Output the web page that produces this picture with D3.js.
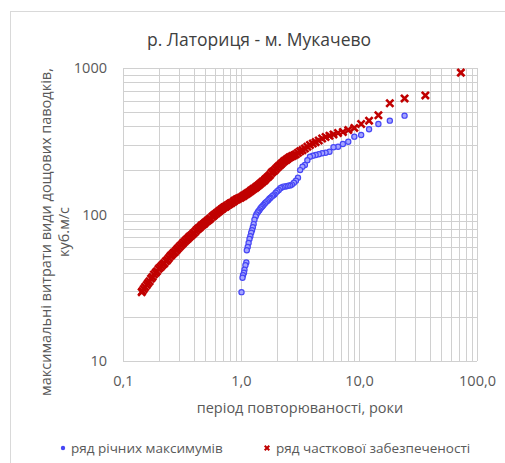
<!DOCTYPE html>
<html>
<head>
<meta charset="utf-8">
<script src="https://cdn.jsdelivr.net/npm/d3@7"></script>
<style>
  body { margin: 0; background: #fff; }
  text { font-family: "Open Sans", sans-serif; }
</style>
</head>
<body>
<div id="chart"></div>
<script>
const chartTitle = "р. Латориця - м. Мукачево";
const xTitle = "період повторюваності, роки";
const yTitle = ["максимальні витрати види дощових паводків,", "куб.м/с"];
const seriesNames = ["ряд річних максимумів", "ряд часткової забезпеченості"];

const xTicks = [0.1, 1, 10, 100];
const xTickLabels = ["0,1", "1,0", "10,0", "100,0"];
const yTicks = [10, 100, 1000];
const yTickLabels = ["10", "100", "1000"];

// annual maxima: return period (years) and discharge
const annualT = [24.33, 18.25, 14.6, 12.17, 10.43, 9.13, 8.11, 7.30, 6.64, 6.08,
  5.62, 5.21, 4.87, 4.56, 4.29, 4.06, 3.84, 3.65, 3.48, 3.32,
  3.17, 3.04, 2.92, 2.81, 2.70, 2.61, 2.52, 2.43, 2.35, 2.28,
  2.21, 2.15, 2.09, 2.03, 1.97, 1.92, 1.87, 1.83, 1.78, 1.74,
  1.70, 1.66, 1.62, 1.59, 1.55, 1.52, 1.49, 1.46, 1.43, 1.40,
  1.38, 1.35, 1.33, 1.30, 1.28, 1.26, 1.24, 1.22, 1.20, 1.18,
  1.16, 1.14, 1.12, 1.11, 1.09, 1.07, 1.06, 1.04, 1.03, 1.01];
const annualQ = [473, 437, 415, 382, 349, 340, 314, 303, 290, 288,
  268, 264, 262, 258, 255, 252, 248, 235, 218, 212,
  201, 178, 170, 165, 160, 158, 157, 156, 155, 155,
  153, 151, 147, 144, 141, 137, 135, 133, 130, 128,
  125, 123, 121, 119, 116, 114, 112, 110, 107, 105,
  103, 100, 97, 92, 86, 82, 78, 75, 71, 68,
  64, 60, 57, 47, 45, 42, 40, 38.5, 37, 29.5];

// partial duration series
const partialT = [73, 36.5, 24.33, 18.25, 14.6, 12.17, 10.43, 9.13, 8.11, 7.30,
  6.64, 6.08, 5.62, 5.21, 4.87, 4.56, 4.29, 4.06, 3.84, 3.65,
  3.48, 3.32, 3.17, 3.04, 2.92, 2.82, 2.73, 2.65, 2.57, 2.49,
  2.42, 2.35, 2.28, 2.21, 2.15, 2.09, 2.03, 1.97, 1.91, 1.86,
  1.81, 1.76, 1.71, 1.66, 1.61, 1.57, 1.52, 1.48, 1.44, 1.40,
  1.36, 1.32, 1.28, 1.24, 1.21, 1.17, 1.14, 1.11, 1.08, 1.05,
  1.02, 0.99, 0.96, 0.93, 0.91, 0.88, 0.86, 0.83, 0.81, 0.79,
  0.76, 0.74, 0.72, 0.70, 0.68, 0.66, 0.64, 0.62, 0.60, 0.585,
  0.57, 0.55, 0.535, 0.52, 0.505, 0.49, 0.477, 0.463, 0.45, 0.437,
  0.425, 0.413, 0.40, 0.39, 0.378, 0.367, 0.357, 0.347, 0.337, 0.327,
  0.318, 0.309, 0.30, 0.291, 0.283, 0.275, 0.267, 0.259, 0.252, 0.245,
  0.238, 0.231, 0.224, 0.218, 0.212, 0.206, 0.20, 0.194, 0.189, 0.183,
  0.178, 0.173, 0.168, 0.163, 0.159, 0.154, 0.150, 0.146, 0.144];
const partialQ = [930, 650, 620, 575, 476, 437, 415, 390, 377, 366,
  360, 352, 345, 338, 330, 320, 312, 305, 298, 290,
  282, 275, 270, 264, 258, 254, 251, 248, 245, 240,
  236, 233, 228, 223, 218, 214, 209, 204, 199, 196,
  192, 186, 182, 178, 174, 170, 167, 164, 161, 158,
  155, 152, 150, 147, 145, 142, 140, 138, 136, 134,
  132, 130, 129, 127, 126, 124, 122, 120, 119, 117,
  115, 113, 112, 110, 108, 106, 104, 102, 100, 98,
  96.5, 94, 92, 90.5, 89, 87, 85.5, 84, 82, 80.5,
  79, 77, 75, 73.5, 72, 70.5, 69, 67.5, 66, 64.5,
  63, 61.5, 60, 58.5, 57, 55.5, 54.5, 53, 52, 50.5,
  49, 48, 46.5, 45.5, 44.5, 43.5, 42.5, 41, 40, 39,
  37.5, 36.5, 35, 34, 33, 32, 31, 30, 29.5];

const width = 505, height = 463;
const margin = { top: 68, right: 28, bottom: 102, left: 123 };
const blue = "#4646f5", red = "#c00000";

const annual = annualT.map((t, i) => ({ t: t, q: annualQ[i] }));
const partial = partialT.map((t, i) => ({ t: t, q: partialQ[i] }));

const svg = d3.select("#chart").append("svg")
  .attr("width", width)
  .attr("height", height);

// chart frame
svg.append("rect")
  .attr("x", 10.5).attr("y", 11.5)
  .attr("width", 520).attr("height", 480)
  .attr("fill", "none").attr("stroke", "#d9d9d9");

const x = d3.scaleLog()
  .domain([0.1, 100])
  .range([margin.left, width - margin.right]);

const y = d3.scaleLog()
  .domain([10, 1000])
  .range([height - margin.bottom, margin.top]);

// gridlines on every log step
svg.append("g")
  .selectAll("line")
  .data(x.ticks())
  .join("line")
  .attr("x1", d => Math.round(x(d)) + 0.5)
  .attr("x2", d => Math.round(x(d)) + 0.5)
  .attr("y1", y(1000)).attr("y2", y(10))
  .attr("stroke", "#d0d0d0");

svg.append("g")
  .selectAll("line")
  .data(y.ticks())
  .join("line")
  .attr("y1", d => Math.round(y(d)) + 0.5)
  .attr("y2", d => Math.round(y(d)) + 0.5)
  .attr("x1", x(0.1)).attr("x2", x(100))
  .attr("stroke", "#d0d0d0");

const xAxis = d3.axisBottom(x)
  .tickValues(xTicks)
  .tickFormat((d, i) => xTickLabels[i])
  .tickSize(0)
  .tickPadding(15);

const yAxis = d3.axisLeft(y)
  .tickValues(yTicks)
  .tickFormat((d, i) => yTickLabels[i])
  .tickSize(0)
  .tickPadding(16);

const xAxisGroup = svg.append("g")
  .attr("transform", `translate(0, ${height - margin.bottom})`)
  .call(xAxis);
const yAxisGroup = svg.append("g")
  .attr("transform", `translate(${margin.left}, 0)`)
  .call(yAxis);

[xAxisGroup, yAxisGroup].forEach(g => {
  g.select(".domain").remove();
  g.selectAll("text")
    .attr("fill", "#595959")
    .attr("font-size", 14.5)
    .style("font-family", "Open Sans");
});

// titles
svg.append("text")
  .attr("x", 259).attr("y", 46)
  .attr("text-anchor", "middle")
  .attr("fill", "#404040")
  .attr("font-size", 17.5)
  .text(chartTitle);

svg.append("text")
  .attr("x", (x(0.1) + x(100)) / 2).attr("y", 413)
  .attr("text-anchor", "middle")
  .attr("fill", "#595959")
  .attr("font-size", 14.5)
  .text(xTitle);

yTitle.forEach((line, i) => {
  svg.append("text")
    .attr("transform", `translate(${51 + i * 18}, 232) rotate(-90)`)
    .attr("text-anchor", "middle")
    .attr("fill", "#595959")
    .attr("font-size", 14.5)
    .text(line);
});

// series
const crossPath = s => `M${-s},${-s}L${s},${s}M${-s},${s}L${s},${-s}`;

svg.append("g")
  .selectAll("circle")
  .data(annual)
  .join("circle")
  .attr("cx", d => x(d.t))
  .attr("cy", d => y(d.q))
  .attr("r", 2.6)
  .attr("fill", "#a4a4ff")
  .attr("stroke", blue)
  .attr("stroke-width", 1.2);

svg.append("g")
  .selectAll("path")
  .data(partial)
  .join("path")
  .attr("transform", d => `translate(${x(d.t)}, ${y(d.q)})`)
  .attr("d", crossPath(3.6))
  .attr("fill", "none")
  .attr("stroke", red)
  .attr("stroke-width", 2.6);

// legend
const legend = svg.append("g").attr("transform", "translate(0, 448)");
legend.append("circle")
  .attr("cx", 63).attr("cy", 0).attr("r", 2.2)
  .attr("fill", blue);
legend.append("text")
  .attr("x", 71).attr("y", 5)
  .attr("fill", "#595959").attr("font-size", 13.5)
  .text(seriesNames[0]);
legend.append("path")
  .attr("transform", "translate(267, 0)")
  .attr("d", crossPath(2.3))
  .attr("fill", "none").attr("stroke", red).attr("stroke-width", 2);
legend.append("text")
  .attr("x", 276).attr("y", 5)
  .attr("fill", "#595959").attr("font-size", 13.5)
  .text(seriesNames[1]);
</script>
</body>
</html>
